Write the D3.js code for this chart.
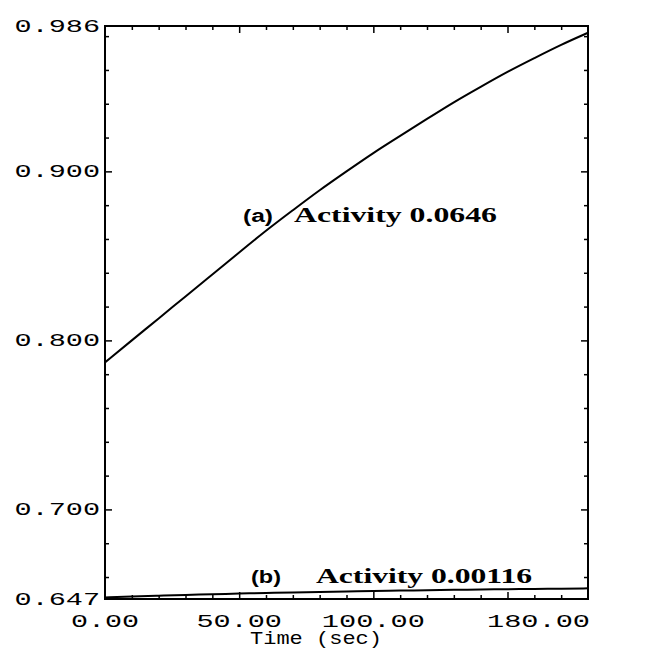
<!DOCTYPE html>
<html>
<head>
<meta charset="utf-8">
<script src="https://cdn.jsdelivr.net/npm/d3@7"></script>
<style>
  html, body { margin: 0; padding: 0; background: #fff; }
  svg { display: block; }
</style>
</head>
<body>
<div id="chart"></div>
<script>
// ---- data ----
const times = [0, 10, 20, 30, 40, 50, 60, 70, 80, 90, 100, 110, 120, 130, 140, 150, 160, 170, 180];
const seriesA = [0.787, 0.800, 0.813, 0.826, 0.839, 0.852, 0.865, 0.877, 0.889, 0.900, 0.911, 0.921, 0.931, 0.941, 0.950, 0.959, 0.967, 0.975, 0.982];
const seriesB = [0.6479, 0.6485, 0.6490, 0.6494, 0.6498, 0.6502, 0.6506, 0.6509, 0.6512, 0.6515, 0.6518, 0.6520, 0.6522, 0.6524, 0.6526, 0.6528, 0.6530, 0.6531, 0.6533];
const xDomain = [0, 180];
const yDomain = [0.647, 0.986];
const xTickLabels = ["0.00", "50.00", "100.00", "180.00"];
const xTickLabelValues = [0, 50, 100, 180];
const yTickLabels = ["0.986", "0.900", "0.800", "0.700", "0.647"];
const yTickLabelValues = [0.986, 0.900, 0.800, 0.700, 0.647];
const xMinorTicks = [10, 20, 30, 40, 60, 70, 80, 90, 110, 120, 130, 140, 160, 170];
const xMajorTicks = [50, 100, 150];
const yMinorTicks = [0.66, 0.68, 0.72, 0.74, 0.76, 0.78, 0.82, 0.84, 0.86, 0.88, 0.92, 0.94, 0.96, 0.98];
const yMajorTicks = [0.70, 0.80, 0.90];
const seriesLabels = [
  { tag: "(a)", text: "Activity 0.0646" },
  { tag: "(b)", text: "Activity 0.00116" }
];
const xTitle = "Time (sec)";

// ---- layout ----
const W = 650, H = 654;
const L = 105, R = 588, T = 26, B = 599;

const svg = d3.select("#chart").append("svg").attr("width", W).attr("height", H);

const x = d3.scaleLinear().domain(xDomain).range([L, R]);
const y = d3.scaleLinear().domain(yDomain).range([B, T]);

// ticks (inward)
function styleAxis(g) {
  g.select(".domain").remove();
  g.selectAll(".tick line").attr("stroke", "#000").attr("stroke-width", 1.5);
  g.selectAll(".tick text").remove();
}
svg.append("g").attr("transform", `translate(0,${B})`).call(d3.axisBottom(x).tickValues(xMinorTicks).tickSize(-4)).call(styleAxis);
svg.append("g").attr("transform", `translate(0,${B})`).call(d3.axisBottom(x).tickValues(xMajorTicks).tickSize(-7)).call(styleAxis);
svg.append("g").attr("transform", `translate(0,${T})`).call(d3.axisTop(x).tickValues(xMinorTicks).tickSize(-4)).call(styleAxis);
svg.append("g").attr("transform", `translate(0,${T})`).call(d3.axisTop(x).tickValues(xMajorTicks).tickSize(-7)).call(styleAxis);
svg.append("g").attr("transform", `translate(${L},0)`).call(d3.axisLeft(y).tickValues(yMinorTicks).tickSize(-4)).call(styleAxis);
svg.append("g").attr("transform", `translate(${L},0)`).call(d3.axisLeft(y).tickValues(yMajorTicks).tickSize(-7)).call(styleAxis);
svg.append("g").attr("transform", `translate(${R},0)`).call(d3.axisRight(y).tickValues(yMinorTicks).tickSize(-4)).call(styleAxis);
svg.append("g").attr("transform", `translate(${R},0)`).call(d3.axisRight(y).tickValues(yMajorTicks).tickSize(-7)).call(styleAxis);

// frame
svg.append("rect").attr("x", L).attr("y", T).attr("width", R - L).attr("height", B - T)
  .attr("fill", "none").attr("stroke", "#000").attr("stroke-width", 2);

// curves
const line = d3.line().x((d, i) => x(times[i])).y(d => y(d)).curve(d3.curveBasis);
svg.append("path").datum(seriesA).attr("d", line).attr("fill", "none").attr("stroke", "#000").attr("stroke-width", 2);
svg.append("path").datum(seriesB).attr("d", line).attr("fill", "none").attr("stroke", "#000").attr("stroke-width", 2);

// tick labels
const mono = "'Liberation Mono', 'DejaVu Sans Mono', monospace";
const charW = 17.5;
svg.selectAll("text.ylab").data(yTickLabels).join("text")
  .attr("class", "ylab")
  .attr("x", L - 5)
  .attr("y", (d, i) => y(yTickLabelValues[i]) + 6)
  .attr("text-anchor", "end")
  .attr("font-family", mono).attr("font-size", 19)
  .attr("textLength", d => d.length * charW - 2)
  .attr("lengthAdjust", "spacingAndGlyphs")
  .text(d => d);

svg.selectAll("text.xlab").data(xTickLabels).join("text")
  .attr("class", "xlab")
  .attr("x", (d, i) => i === xTickLabels.length - 1 ? x(xTickLabelValues[i]) + 2 : x(xTickLabelValues[i]))
  .attr("y", 627)
  .attr("text-anchor", (d, i) => i === xTickLabels.length - 1 ? "end" : "middle")
  .attr("font-family", mono).attr("font-size", 19)
  .attr("textLength", d => d.length * charW - 2)
  .attr("lengthAdjust", "spacingAndGlyphs")
  .text(d => d);

svg.append("text")
  .attr("x", 250).attr("y", 644)
  .attr("font-family", mono).attr("font-size", 18)
  .attr("textLength", 132)
  .attr("lengthAdjust", "spacingAndGlyphs")
  .text(xTitle);

// series annotations
const serif = "'Liberation Serif', 'DejaVu Serif', serif";
const annA = svg.append("g");
annA.append("text").attr("x", 243).attr("y", 222)
  .attr("font-family", "'Liberation Sans', Arial, sans-serif").attr("font-weight", "bold").attr("font-size", 18)
  .attr("textLength", 30).attr("lengthAdjust", "spacingAndGlyphs")
  .text(seriesLabels[0].tag);
annA.append("text").attr("x", 294).attr("y", 222)
  .attr("font-family", serif).attr("font-weight", "bold").attr("font-size", 21)
  .attr("textLength", 203).attr("lengthAdjust", "spacingAndGlyphs")
  .text(seriesLabels[0].text);

const annB = svg.append("g");
annB.append("text").attr("x", 251).attr("y", 583)
  .attr("font-family", "'Liberation Sans', Arial, sans-serif").attr("font-weight", "bold").attr("font-size", 18)
  .attr("textLength", 30).attr("lengthAdjust", "spacingAndGlyphs")
  .text(seriesLabels[1].tag);
annB.append("text").attr("x", 316).attr("y", 583)
  .attr("font-family", serif).attr("font-weight", "bold").attr("font-size", 21)
  .attr("textLength", 216).attr("lengthAdjust", "spacingAndGlyphs")
  .text(seriesLabels[1].text);
</script>
</body>
</html>
